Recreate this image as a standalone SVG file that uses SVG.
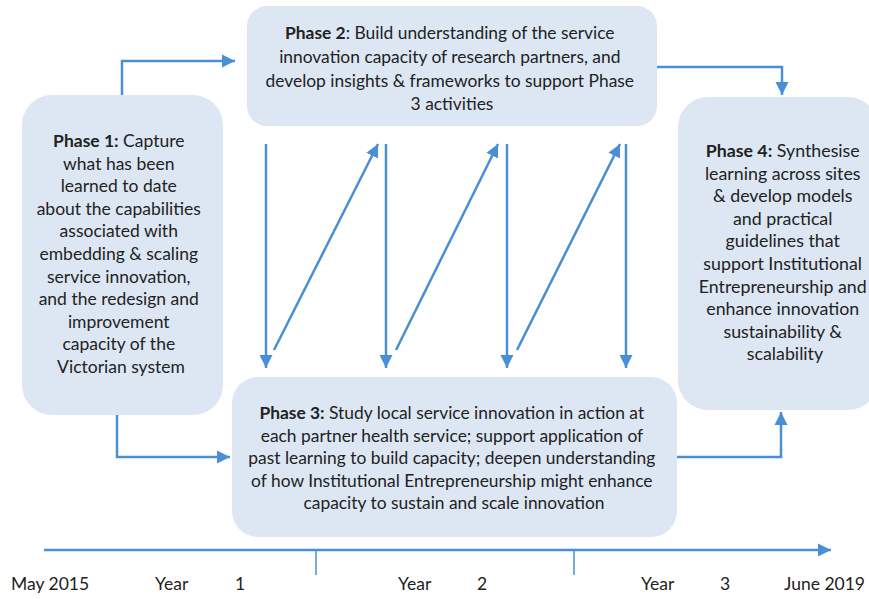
<svg xmlns="http://www.w3.org/2000/svg" width="869" height="599" viewBox="0 0 869 599">
  <style>
    .box { fill: #dde7f3; }
    .txt { font-family: Lato, "Liberation Sans", sans-serif; fill: #222222; text-anchor: middle; font-size: 17.4px; }
    .b { font-weight: bold; }
    .conn { fill: none; stroke: #4a8fd6; stroke-width: 2.5; }
    .thin { fill: none; stroke: #4a8fd6; stroke-width: 1.5; }
    .axis { font-family: Lato, "Liberation Sans", sans-serif; font-size: 17.5px; fill: #222222; }
  </style>
  <defs>
    <marker id="arrow" markerUnits="userSpaceOnUse" markerWidth="14" markerHeight="14" viewBox="0 0 14 14" refX="13" refY="7" orient="auto">
      <path d="M0,0.5 L13,7 L0,13.5 Z" fill="#4a8fd6"/>
    </marker>
  </defs>
  <rect width="869" height="599" fill="#ffffff"/>

  <!-- phase boxes -->
  <g id="phase1">
    <rect class="box" x="22" y="95" width="201" height="320" rx="30"/>
    <text class="txt" style="font-size:17.5px">
      <tspan x="121" y="147"><tspan class="b">Phase 1:</tspan> Capture</tspan>
      <tspan x="121" y="169.6">what has been</tspan>
      <tspan x="121" y="192.2">learned to date</tspan>
      <tspan x="121" y="214.8">about the capabilities</tspan>
      <tspan x="121" y="237.4">associated with</tspan>
      <tspan x="121" y="260">embedding &amp; scaling</tspan>
      <tspan x="121" y="282.6">service innovation,</tspan>
      <tspan x="121" y="305.2">and the redesign and</tspan>
      <tspan x="121" y="327.8">improvement</tspan>
      <tspan x="121" y="350.4">capacity of the</tspan>
      <tspan x="121" y="373">Victorian system</tspan>
    </text>
  </g>

  <g id="phase2">
    <rect class="box" x="247" y="6" width="410" height="120" rx="20"/>
    <text class="txt">
      <tspan x="452" y="39"><tspan class="b">Phase 2</tspan>: Build understanding of the service</tspan>
      <tspan x="452" y="63">innovation capacity of research partners, and</tspan>
      <tspan x="452" y="87">develop insights &amp; frameworks to support Phase</tspan>
      <tspan x="452" y="110">3 activities</tspan>
    </text>
  </g>

  <g id="phase3">
    <rect class="box" x="232" y="377" width="445" height="160" rx="26"/>
    <text class="txt">
      <tspan x="454" y="419"><tspan class="b">Phase 3:</tspan> Study local service innovation in action at</tspan>
      <tspan x="454" y="441.5">each partner health service; support application of</tspan>
      <tspan x="454" y="464">past learning to build capacity; deepen understanding</tspan>
      <tspan x="454" y="486.5">of how Institutional Entrepreneurship might enhance</tspan>
      <tspan x="454" y="509">capacity to sustain and scale innovation</tspan>
    </text>
  </g>

  <g id="phase4">
    <rect class="box" x="678" y="97" width="200" height="313" rx="30"/>
    <text class="txt" style="font-size:17.8px">
      <tspan x="785" y="157"><tspan class="b">Phase 4:</tspan> Synthesise</tspan>
      <tspan x="785" y="179.6">learning across sites</tspan>
      <tspan x="785" y="202.2">&amp; develop models</tspan>
      <tspan x="785" y="224.8">and practical</tspan>
      <tspan x="785" y="247.4">guidelines that</tspan>
      <tspan x="785" y="270">support Institutional</tspan>
      <tspan x="785" y="292.6">Entrepreneurship and</tspan>
      <tspan x="785" y="315.2">enhance innovation</tspan>
      <tspan x="785" y="337.8">sustainability &amp;</tspan>
      <tspan x="785" y="360.4">scalability</tspan>
    </text>
  </g>

  <!-- connectors -->
  <g id="connectors">
    <path class="conn" d="M122,95 V61 H235" marker-end="url(#arrow)"/>
    <path class="conn" d="M657,67 H782 V95" marker-end="url(#arrow)"/>
    <path class="conn" d="M117,415 V457 H230" marker-end="url(#arrow)"/>
    <path class="conn" d="M677,457 H781 V412" marker-end="url(#arrow)"/>

    <path class="conn" d="M266,144 V368" marker-end="url(#arrow)"/>
    <path class="conn" d="M386,144 V368" marker-end="url(#arrow)"/>
    <path class="conn" d="M507,144 V368" marker-end="url(#arrow)"/>
    <path class="conn" d="M626,144 V368" marker-end="url(#arrow)"/>

    <path class="conn" d="M274,350 L378,144" marker-end="url(#arrow)"/>
    <path class="conn" d="M396,350 L498,144" marker-end="url(#arrow)"/>
    <path class="conn" d="M517,350 L620,144" marker-end="url(#arrow)"/>
  </g>

  <!-- timeline -->
  <g id="timeline">
    <path class="conn" d="M44,550 H831" marker-end="url(#arrow)"/>
    <path class="thin" d="M316,550 V575"/>
    <path class="thin" d="M574,550 V575"/>
    <text class="axis" x="11" y="590">May 2015</text>
    <text class="axis" x="155" y="590">Year</text>
    <text class="axis" x="235" y="590">1</text>
    <text class="axis" x="398" y="590">Year</text>
    <text class="axis" x="477" y="590">2</text>
    <text class="axis" x="641" y="590">Year</text>
    <text class="axis" x="720" y="590">3</text>
    <text class="axis" x="784" y="590">June 2019</text>
  </g>
</svg>
